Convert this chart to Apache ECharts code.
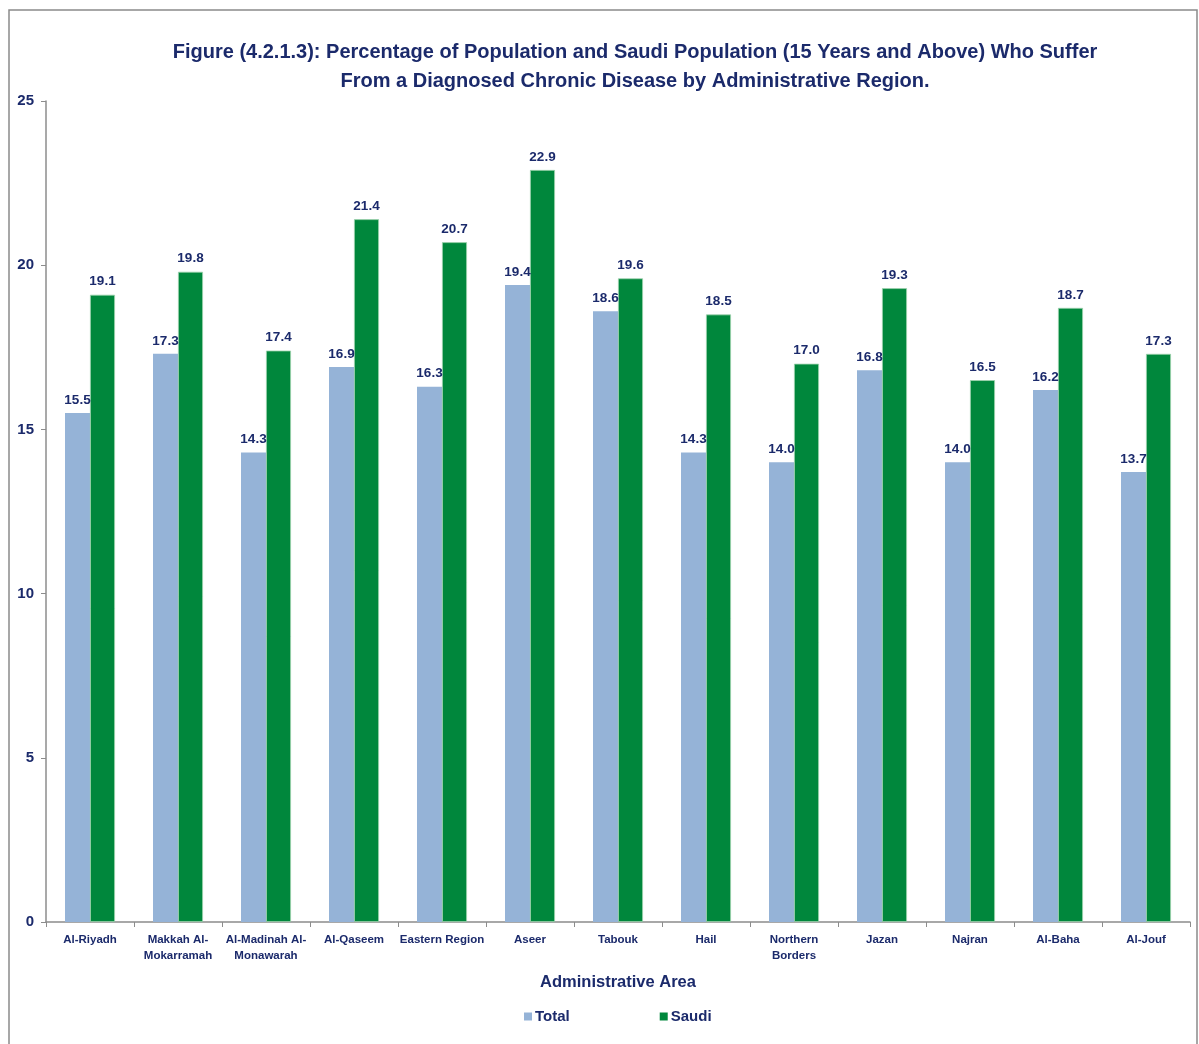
<!DOCTYPE html>
<html>
<head>
<meta charset="utf-8">
<script src="https://cdn.jsdelivr.net/npm/echarts@6/dist/echarts.min.js"></script>
<style>
  html, body { margin: 0; padding: 0; background: #fff; }
  #chart { width: 1199px; height: 1044px; }
</style>
</head>
<body>
<div id="chart"></div>
<script>
// Administrative regions and chronic disease percentages (15 years and above)
const regions = [
  'Al-Riyadh', 'Makkah Al-\nMokarramah', 'Al-Madinah Al-\nMonawarah', 'Al-Qaseem',
  'Eastern Region', 'Aseer', 'Tabouk', 'Hail', 'Northern\nBorders', 'Jazan',
  'Najran', 'Al-Baha', 'Al-Jouf'
];
const totalValues = [15.5, 17.3, 14.3, 16.9, 16.3, 19.4, 18.6, 14.3, 14.0, 16.8, 14.0, 16.2, 13.7];
const saudiValues = [19.1, 19.8, 17.4, 21.4, 20.7, 22.9, 19.6, 18.5, 17.0, 19.3, 16.5, 18.7, 17.3];
const seriesNames = ['Total', 'Saudi'];
const titleText = 'Figure (4.2.1.3): Percentage of Population and Saudi Population (15 Years and Above) Who Suffer\nFrom a Diagnosed Chronic Disease by Administrative Region.';
const xAxisName = 'Administrative Area';

const NAVY = '#1B2A6B';
const FONT = '"Liberation Sans", Arial, sans-serif';

const chart = echarts.init(document.getElementById('chart'));

const labelStyle = {
  show: true,
  position: 'top',
  distance: 6,
  color: NAVY,
  fontFamily: FONT,
  fontWeight: 'bold',
  fontSize: 13.5,
  formatter: p => p.value.toFixed(1)
};

chart.setOption({
  animation: false,
  backgroundColor: '#fff',
  textStyle: { fontFamily: FONT },
  graphic: [{
    type: 'rect',
    shape: { x: 9, y: 10, width: 1188, height: 1050 },
    style: { fill: 'none', stroke: '#8a8a8a', lineWidth: 1.5 },
    silent: true,
    z: -1
  }],
  title: {
    text: titleText,
    left: 630,
    textAlign: 'center',
    top: 33,
    textStyle: {
      color: NAVY,
      fontFamily: FONT,
      fontWeight: 'bold',
      fontSize: 20,
      lineHeight: 29
    }
  },
  legend: {
    data: seriesNames,
    bottom: 15,
    left: 519,
    itemGap: 90,
    itemWidth: 8,
    itemHeight: 8,
    icon: 'rect',
    itemStyle: { borderWidth: 0 },
    textStyle: { color: NAVY, fontFamily: FONT, fontWeight: 'bold', fontSize: 15, padding: [0, 0, 0, -2] }
  },
  grid: { left: 46, right: 9, top: 101, bottom: 122, containLabel: false },
  xAxis: {
    type: 'category',
    data: regions,
    name: xAxisName,
    nameLocation: 'middle',
    nameGap: 52,
    nameTextStyle: { color: NAVY, fontFamily: FONT, fontWeight: 'bold', fontSize: 16.5 },
    axisLine: { lineStyle: { color: '#8c8c8c', width: 1.5 } },
    axisTick: { show: true, length: 5, lineStyle: { color: '#8c8c8c' } },
    axisLabel: {
      color: NAVY, fontFamily: FONT, fontWeight: 'bold', fontSize: 11.5,
      lineHeight: 16, margin: 10, interval: 0
    }
  },
  yAxis: {
    type: 'value',
    min: 0,
    max: 25,
    interval: 5,
    splitLine: { show: false },
    axisLine: { show: true, lineStyle: { color: '#8c8c8c', width: 1.5 } },
    axisTick: { show: true, inside: false, length: 5, lineStyle: { color: '#8c8c8c' } },
    axisLabel: { color: NAVY, fontFamily: FONT, fontWeight: 'bold', fontSize: 15, margin: 12 }
  },
  series: [
    {
      name: seriesNames[0],
      type: 'bar',
      data: totalValues,
      barWidth: 25,
      barGap: '0%',
      itemStyle: { color: '#95B3D7' },
      label: labelStyle
    },
    {
      name: seriesNames[1],
      type: 'bar',
      data: saudiValues,
      barWidth: 25,
      barGap: '0%',
      itemStyle: { color: '#00873C', borderColor: '#9fd3ae', borderWidth: 0.8 },
      label: labelStyle
    }
  ]
});
</script>
</body>
</html>
